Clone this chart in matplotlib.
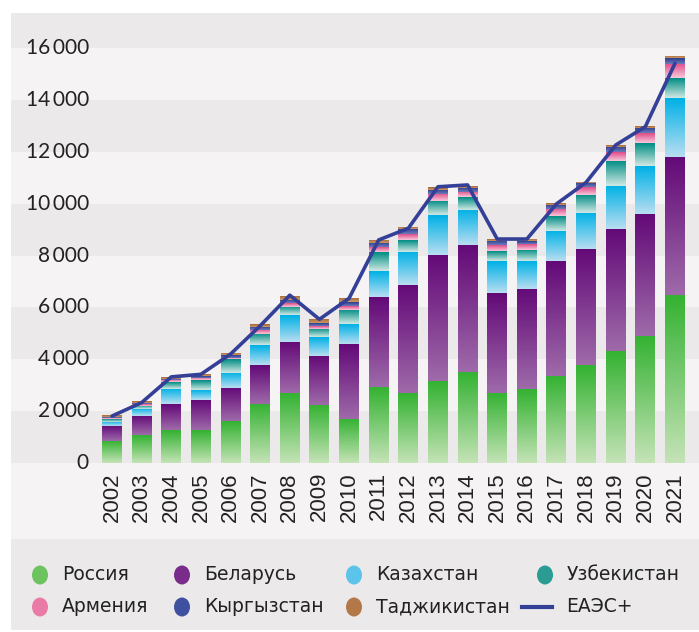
import numpy as np
import matplotlib.pyplot as plt
from matplotlib.colors import LinearSegmentedColormap
from matplotlib.patches import Ellipse, Rectangle

# данные по странам, млн долл.
years = [str(y) for y in range(2002, 2022)]
russia = [850, 1070, 1270, 1270, 1610, 2290, 2690, 2240, 1700, 2930,
          2690, 3160, 3520, 2710, 2850, 3370, 3760, 4320, 4910, 6480]
belarus = [580, 745, 1000, 1155, 1285, 1490, 1975, 1890, 2890, 3470,
           4175, 4860, 4885, 3855, 3865, 4420, 4490, 4700, 4690, 5320]
kazakhstan = [170, 270, 580, 385, 580, 770, 1040, 730, 760, 1000,
              1285, 1540, 1350, 1220, 1070, 1160, 1390, 1660, 1850, 2270]
uzbekistan = [90, 130, 255, 385, 525, 425, 320, 310, 560, 730,
              450, 540, 500, 385, 425, 555, 695, 965, 885, 770]
armenia = [40, 50, 90, 90, 65, 155, 130, 105, 150, 180,
           220, 270, 195, 230, 230, 295, 295, 345, 375, 540]
kyrgyzstan = [50, 50, 40, 65, 90, 130, 130, 115, 130, 155,
              195, 155, 155, 155, 115, 155, 155, 195, 220, 220]
tajikistan = [70, 75, 75, 75, 90, 105, 155, 165, 170, 130,
              90, 115, 75, 75, 90, 75, 50, 75, 65, 90]
eaeu_total = [1810, 2330, 3320, 3420, 4200, 5290, 6470, 5540, 6350, 8600,
              9050, 10650, 10720, 8635, 8635, 9990, 10820, 12260, 12970, 15410]

names = ["Россия", "Беларусь", "Казахстан", "Узбекистан",
         "Армения", "Кыргызстан", "Таджикистан"]
series = [russia, belarus, kazakhstan, uzbekistan, armenia, kyrgyzstan, tajikistan]
# (светлый низ, тёмный верх)
grads = [("#c4e3b6", "#34b232"), ("#9e6aa9", "#640a78"), ("#b8def1", "#00b1e6"),
         ("#d0e8e4", "#008d84"), ("#f7c8da", "#e04c89"), ("#6d7bba", "#2c3b8e"),
         ("#cc9662", "#a2653a")]
legend_colors = ["#6cc360", "#7a2c8a", "#5cc3ea", "#2a9c93", "#ea7ba6", "#4050a0", "#b37848"]
line_color = "#343f97"
dark_band = "#ebe9ea"
light_bg = "#f5f3f4"
txt_color = "#222222"

W, H = 699, 632
fig = plt.figure(figsize=(W / 100, H / 100), dpi=100)
fig.patch.set_facecolor("white")

# фон и легенда в пиксельных координатах
bg = fig.add_axes([0, 0, 1, 1], zorder=0)
bg.set_xlim(0, W)
bg.set_ylim(H, 0)
bg.axis("off")
bg.add_patch(Rectangle((11, 13), W - 11, 526, facecolor=light_bg, edgecolor="none"))
bg.add_patch(Rectangle((11, 539), W - 11, 91, facecolor=dark_band, edgecolor="none"))

# основной график
ax = fig.add_axes([11 / W, (H - 463) / H, (W - 11) / W, 450 / H], zorder=1)
ax.patch.set_visible(False)
ymax = 17350
for lo in range(0, 17000, 4000):
    ax.axhspan(lo, min(lo + 2000, ymax), color=dark_band, lw=0, zorder=0)

x = np.arange(len(years))
width = 0.675
grad_img = np.linspace(0, 1, 64).reshape(-1, 1)
bottom = np.zeros(len(years))
for vals, (c0, c1) in zip(series, grads):
    cmap = LinearSegmentedColormap.from_list("g", [c0, c1])
    bars = ax.bar(x, vals, width, bottom=bottom, color="none", edgecolor="none", zorder=2)
    for rect in bars:
        x0, y0 = rect.get_x(), rect.get_y()
        im = ax.imshow(grad_img, cmap=cmap, aspect="auto", origin="lower",
                       extent=[x0, x0 + rect.get_width(), y0, y0 + rect.get_height()],
                       zorder=2, interpolation="bilinear")
        im.set_clip_path(rect)
    bottom += np.array(vals)

ax.plot(x, eaeu_total, color=line_color, lw=2.6, solid_joinstyle="round",
        solid_capstyle="round", zorder=3)

ax.set_xlim(-3.41, 19.81)
ax.set_ylim(0, ymax)
for s in ax.spines.values():
    s.set_visible(False)
ax.set_yticks([])
ax.set_xticks(x)
ax.set_xticklabels(years, rotation=90, fontsize=16, family="Liberation Sans", color=txt_color)
ax.tick_params(axis="x", length=0, pad=6.5)

for v in range(0, 16001, 2000):
    lab = f"{v // 1000}\u2009000" if v else "0"
    ax.text(-0.78, v, lab, ha="right", va="center", fontsize=15,
            family=["Lato", "DejaVu Sans"], color=txt_color, zorder=1)

# легенда
legend_items = [(40, 575, 0), (182, 575, 1), (354, 575, 2), (545, 575, 3),
                (40, 607, 4), (182, 607, 5), (354, 607, 6)]
for cx, cy, i in legend_items:
    bg.add_patch(Ellipse((cx, cy), 16, 19, facecolor=legend_colors[i], edgecolor="none"))
    bg.text(cx + 22, cy, names[i], ha="left", va="center", fontsize=13.5,
            family="DejaVu Sans", color=txt_color)
bg.plot([522, 552], [607, 607], color=line_color, lw=3)
bg.text(566, 607, "ЕАЭС+", ha="left", va="center", fontsize=13.5,
        family="DejaVu Sans", color=txt_color)

fig.savefig("out.png", dpi=100)
